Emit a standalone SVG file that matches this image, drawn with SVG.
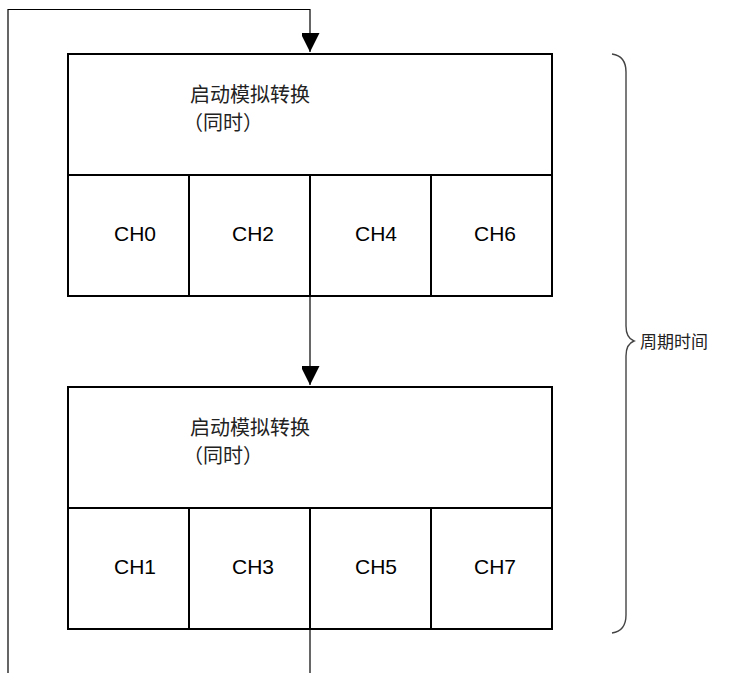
<svg xmlns="http://www.w3.org/2000/svg" width="731" height="673" viewBox="0 0 731 673">
<style>
.box{fill:#fff;stroke:#000;stroke-width:2}
.div{stroke:#000;stroke-width:2;fill:none}
.cn{font-family:"Noto Sans CJK SC","Noto Sans CJK JP",sans-serif;font-size:20px;fill:#222}
.ch{font-family:"Liberation Sans",Arial,sans-serif;font-size:21px;fill:#000}
.conn{stroke:#000;stroke-width:1.2;fill:none}
</style>
<defs>
<marker id="arr" markerWidth="20" markerHeight="18" refX="19" refY="9.5" orient="auto" markerUnits="userSpaceOnUse">
<path d="M0,0 L19,9.5 L0,19 Z" fill="#000"/>
</marker>
</defs>
<rect width="731" height="673" fill="#fff"/>
<g id="connectors">
<path class="conn" d="M8,673 L8,9.5 L310,9.5 L310,52" marker-end="url(#arr)"/>
<path class="conn" d="M310,296 L310,385" marker-end="url(#arr)"/>
<path class="conn" d="M310,629 L310,673"/>
</g>
<g id="block1">
<rect class="box" x="68" y="54" width="484" height="242"/>
<path class="div" d="M68,175 H552 M189,175 V296 M310,175 V296 M431,175 V296"/>
<text class="cn" x="190" y="102">启动模拟转换</text>
<text class="cn" x="183" y="130">（同时）</text>
<text class="ch" x="114" y="241">CH0</text>
<text class="ch" x="232" y="241">CH2</text>
<text class="ch" x="355" y="241">CH4</text>
<text class="ch" x="474" y="241">CH6</text>
</g>
<g id="block2">
<rect class="box" x="68" y="387" width="484" height="242"/>
<path class="div" d="M68,508 H552 M189,508 V629 M310,508 V629 M431,508 V629"/>
<text class="cn" x="190" y="435">启动模拟转换</text>
<text class="cn" x="183" y="463">（同时）</text>
<text class="ch" x="114" y="574">CH1</text>
<text class="ch" x="232" y="574">CH3</text>
<text class="ch" x="355" y="574">CH5</text>
<text class="ch" x="474" y="574">CH7</text>
</g>
<g id="brace">
<path d="M612,54 Q626,56 626,72 L626,326 Q626,338 634,341 Q626,344 626,356 L626,615 Q626,631 612,633" fill="none" stroke="#444" stroke-width="1.4"/>
<text class="cn" x="640" y="348" style="font-size:17px">周期时间</text>
</g>
</svg>
